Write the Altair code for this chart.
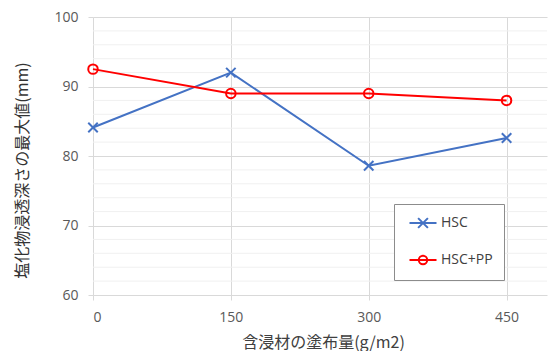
import altair as alt
import pandas as pd

# Coating amount of impregnant (g/m2) and max chloride penetration depth (mm)
coating = [0, 150, 300, 450]
hsc = [84.1, 92.0, 78.6, 82.6]
hsc_pp = [92.5, 89.0, 89.0, 88.0]
series_names = ["HSC", "HSC+PP"]
series_colors = ["#4472C4", "#FF0000"]

x_ticks = [0, 150, 300, 450]
y_ticks = [60, 70, 80, 90, 100]
minor_grid = [v for v in range(62, 100, 2) if v % 10 != 0]

df = pd.DataFrame(
    {
        "coating": coating * 2,
        "depth": hsc + hsc_pp,
        "series": [series_names[0]] * len(coating) + [series_names[1]] * len(coating),
    }
)
grid_df = pd.DataFrame({"depth": minor_grid})

LABEL_FONT = "Open Sans"
CJK_FONT = "Noto Sans CJK JP"
GRID = "#d9d9d9"

# marker shapes on the lines
series_markers = ["M-1,-1L1,1M-1,1L1,-1", "circle"]
# legend symbols: a short line with the series marker on top
legend_symbols = [
    "M-1.93,0H1.93M-0.7,-0.7L0.7,0.7M-0.7,0.7L0.7,-0.7",
    "M-1.93,0H1.93M-0.6,0A0.6,0.6 0 1,1 0.6,0A0.6,0.6 0 1,1 -0.6,0",
]

x_scale = alt.Scale(domain=[0, 494], nice=False, zero=False)
y_scale = alt.Scale(domain=[60, 100], nice=False, zero=False)

x_enc = alt.X(
    "coating:Q",
    scale=x_scale,
    axis=alt.Axis(
        values=x_ticks,
        title="含浸材の塗布量(g/m2)",
        titleFont=CJK_FONT,
        titleFontSize=16,
        titleFontWeight="normal",
        titleColor="#404040",
        titleX=230,
        titleY=47,
        titleBaseline="middle",
        labelFont=LABEL_FONT,
        labelFontSize=14,
        labelColor="#595959",
        labelPadding=10,
        grid=True,
        gridColor=GRID,
        tickColor=GRID,
        tickSize=5,
        domain=False,
    ),
)
y_enc = alt.Y(
    "depth:Q",
    scale=y_scale,
    axis=alt.Axis(
        values=y_ticks,
        title="塩化物浸透深さの最大値(mm)",
        titleFont=CJK_FONT,
        titleFontSize=16,
        titleFontWeight="normal",
        titleColor="#333333",
        titleX=-71,
        titleY=153,
        titleBaseline="middle",
        labelFont=LABEL_FONT,
        labelFontSize=14,
        labelColor="#595959",
        labelPadding=10,
        grid=True,
        gridColor=GRID,
        tickColor=GRID,
        tickSize=5,
        domain=False,
    ),
)

legend_props = dict(
    title=None,
    orient="none",
    legendX=301,
    legendY=187,
    direction="vertical",
    padding=11,
    fillColor="white",
    strokeColor="#8c8c8c",
    symbolSize=196,
    symbolStrokeWidth=2,
    symbolOffset=10,
    labelOffset=10,
    rowPadding=19,
    labelFont=LABEL_FONT,
    labelFontSize=14,
    labelColor="#404040",
)

minor = (
    alt.Chart(grid_df)
    .mark_rule(color="#f0f0f0", strokeWidth=1)
    .encode(y=alt.Y("depth:Q", scale=y_scale))
)

layers = [minor]
for name, col, marker in zip(series_names, series_colors, series_markers):
    base = alt.Chart(df).transform_filter(alt.datum.series == name)
    layers.append(
        base.mark_line(color=col, strokeWidth=2).encode(
            x=x_enc, y=y_enc, order=alt.Order("coating:Q")
        )
    )
    layers.append(
        base.mark_point(
            shape=marker, color=col, filled=False, size=90, strokeWidth=2, opacity=1
        ).encode(x="coating:Q", y="depth:Q")
    )

# legend-only layer: its marks stay invisible, the legend carries the entries
legend_layer = (
    alt.Chart(df)
    .mark_point(filled=False, size=196, strokeWidth=2, opacity=0)
    .encode(
        x="coating:Q",
        y="depth:Q",
        color=alt.Color(
            "series:N",
            scale=alt.Scale(domain=series_names, range=series_colors),
            legend=alt.Legend(**legend_props),
        ),
        shape=alt.Shape(
            "series:N",
            scale=alt.Scale(domain=series_names, range=legend_symbols),
            legend=alt.Legend(**legend_props),
        ),
    )
)
layers.append(legend_layer)

chart = (
    alt.layer(*layers)
    .properties(
        width=454,
        height=278,
        padding={"left": 93, "top": 17, "right": 1, "bottom": 56},
        autosize="none",
        background="white",
    )
    .configure_view(stroke=None)
)

chart.save("out.html", embed_options={"renderer": "svg", "actions": False})
